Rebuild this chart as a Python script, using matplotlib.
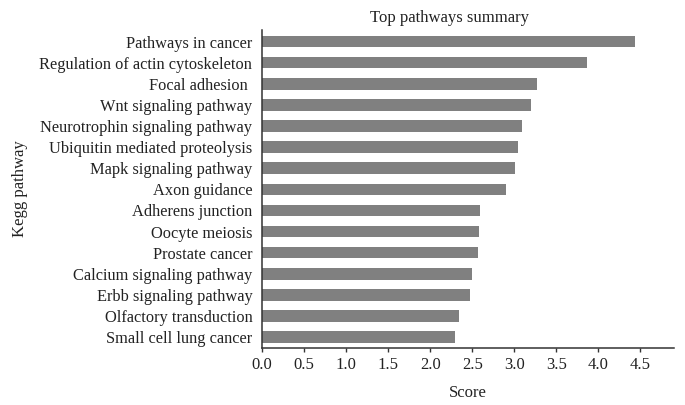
import matplotlib.pyplot as plt
import numpy as np

# datos (de arriba a abajo)
pathways = ["Pathways in cancer", "Regulation of actin cytoskeleton", "Focal adhesion ",
            "Wnt signaling pathway", "Neurotrophin signaling pathway",
            "Ubiquitin mediated proteolysis", "Mapk signaling pathway", "Axon guidance",
            "Adherens junction", "Oocyte meiosis", "Prostate cancer",
            "Calcium signaling pathway", "Erbb signaling pathway",
            "Olfactory transduction", "Small cell lung cancer"]
scores = [4.44, 3.87, 3.27, 3.20, 3.09, 3.05, 3.01, 2.90,
          2.59, 2.58, 2.57, 2.50, 2.47, 2.34, 2.30]
xticks = [0.0, 0.5, 1.0, 1.5, 2.0, 2.5, 3.0, 3.5, 4.0, 4.5]

plt.rcParams['font.family'] = ['Liberation Serif', 'DejaVu Serif']
fs = 11.8

fig = plt.figure(figsize=(6.85, 4.05), dpi=100)
ax = fig.add_axes([0.3825, 0.1415, 0.6015, 0.7845])

y = np.arange(len(pathways))
ax.barh(y, scores, height=0.55, color="#808080")

ax.set_ylim(len(pathways) - 0.5, -0.55)
ax.set_xlim(0, 4.9)
ax.set_yticks(y)
ax.set_yticklabels(pathways, fontsize=fs, color="#222222")
ax.set_xticks(xticks)
ax.set_xticklabels([f"{t:.1f}" for t in xticks], fontsize=12, color="#222222")
ax.tick_params(axis="y", length=0, pad=7)
ax.tick_params(axis="x", length=3, width=1, color="#333333", pad=4)

for s in ["top", "right"]:
    ax.spines[s].set_visible(False)
for s in ["left", "bottom"]:
    ax.spines[s].set_color("#333333")
    ax.spines[s].set_linewidth(1.1)

ax.set_xlabel("Score", fontsize=12, color="#222222", labelpad=8)
ax.set_ylabel("Kegg pathway", fontsize=12, color="#222222", labelpad=8)
ax.set_title("Top pathways summary", fontsize=12, color="#222222", x=0.454, pad=6)

fig.savefig("out.png", dpi=100)
